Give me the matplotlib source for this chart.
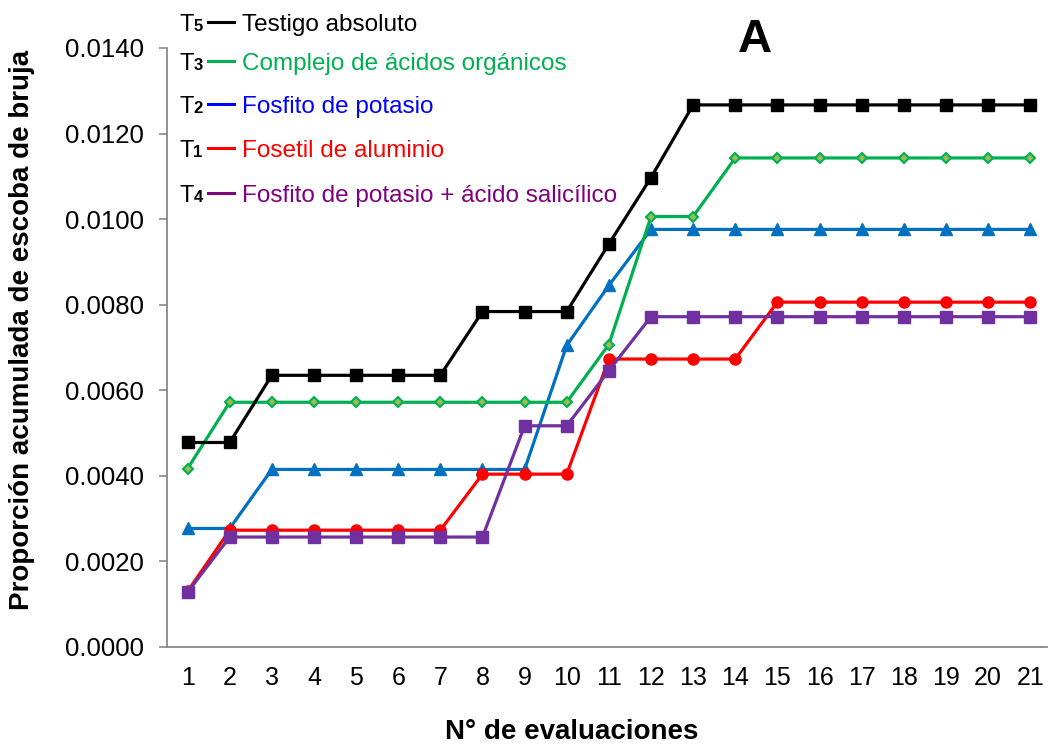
import matplotlib
matplotlib.use("Agg")
import matplotlib.pyplot as plt
from matplotlib.lines import Line2D

plt.rcParams['font.family'] = ['Liberation Sans', 'DejaVu Sans']

evaluaciones = list(range(1, 22))

t5_testigo = [0.00478, 0.00478, 0.00635, 0.00635, 0.00635, 0.00635, 0.00635, 0.00784, 0.00784, 0.00784,
              0.00942, 0.01097, 0.01267, 0.01267, 0.01267, 0.01267, 0.01267, 0.01267, 0.01267, 0.01267, 0.01267]
t3_complejo = [0.00417, 0.00572, 0.00572, 0.00572, 0.00572, 0.00572, 0.00572, 0.00572, 0.00572, 0.00572,
               0.00707, 0.01006, 0.01006, 0.01143, 0.01143, 0.01143, 0.01143, 0.01143, 0.01143, 0.01143, 0.01143]
t2_fosfito = [0.00277, 0.00277, 0.00415, 0.00415, 0.00415, 0.00415, 0.00415, 0.00415, 0.00415, 0.00705,
              0.00845, 0.00976, 0.00976, 0.00976, 0.00976, 0.00976, 0.00976, 0.00976, 0.00976, 0.00976, 0.00976]
t1_fosetil = [0.00130, 0.00273, 0.00273, 0.00273, 0.00273, 0.00273, 0.00273, 0.00404, 0.00404, 0.00404,
              0.00673, 0.00673, 0.00673, 0.00673, 0.00806, 0.00806, 0.00806, 0.00806, 0.00806, 0.00806, 0.00806]
t4_fosfito_sal = [0.00128, 0.00257, 0.00257, 0.00257, 0.00257, 0.00257, 0.00257, 0.00257, 0.00517, 0.00517,
                  0.00646, 0.00772, 0.00772, 0.00772, 0.00772, 0.00772, 0.00772, 0.00772, 0.00772, 0.00772, 0.00772]

yticks = [0.0, 0.002, 0.004, 0.006, 0.008, 0.010, 0.012, 0.014]
ytick_labels = ["0.0000", "0.0020", "0.0040", "0.0060", "0.0080", "0.0100", "0.0120", "0.0140"]

legend_items = [
    ("T", "5", "Testigo absoluto", "#000000", "#000000"),
    ("T", "3", "Complejo de ácidos orgánicos", "#00B050", "#00B050"),
    ("T", "2", "Fosfito de potasio", "#0000FF", "#0000FF"),
    ("T", "1", "Fosetil de aluminio", "#FF0000", "#FF0000"),
    ("T", "4", "Fosfito de potasio + ácido salicílico", "#800080", "#800080"),
]

W, H = 1049, 749
fig = plt.figure(figsize=(W / 100, H / 100), dpi=100)
ax = fig.add_axes([166.5 / W, 1 - 647 / H, (1047 - 166.5) / W, (647 - 48) / H])

lw = 2.3
ax.plot(evaluaciones, t2_fosfito, color="#0070C0", lw=lw, marker="^", ms=8.5, zorder=3)
ax.plot(evaluaciones, t1_fosetil, color="#FF0000", lw=lw, marker="o", ms=8, zorder=4)
ax.plot(evaluaciones, t4_fosfito_sal, color="#7030A0", lw=lw, marker="s", ms=8, zorder=5)
ax.plot(evaluaciones, t3_complejo, color="#00B050", lw=lw, marker="D", ms=5.5,
        markerfacecolor="#9BBB59", markeredgecolor="#00B050", markeredgewidth=1.5, zorder=6)
ax.plot(evaluaciones, t5_testigo, color="#000000", lw=lw, marker="s", ms=8, zorder=7)

ax.set_xlim(0.5, 21.4)
ax.set_ylim(0, 0.014)
ax.set_xticks(evaluaciones)
ax.set_xticklabels([str(v) for v in evaluaciones], fontsize=18)
ax.set_yticks(yticks)
ax.set_yticklabels(ytick_labels, fontsize=18.5)
ax.tick_params(axis='x', length=0, pad=14)
ax.tick_params(axis='y', length=5.5, width=1.2, color="#898989", pad=11, direction='out')
for s in ['top', 'right']:
    ax.spines[s].set_visible(False)
for s in ['left', 'bottom']:
    ax.spines[s].set_color("#898989")
    ax.spines[s].set_linewidth(1.3)

fig.text(22 / W, 1 - 330 / H, "Proporción acumulada de escoba de bruja", rotation=90,
         ha='center', va='center', fontsize=20, fontweight='bold')
fig.text(572 / W, 1 - 732 / H, "N° de evaluaciones", ha='center', va='center',
         fontsize=20, fontweight='bold')
fig.text(755 / W, 1 - 40 / H, "A", ha='center', va='center', fontsize=34, fontweight='bold')

row_y = [21.7, 61, 104, 147.7, 193.3]
for (t, sub, label, line_c, text_c), y in zip(legend_items, row_y):
    base = 1 - (y + 9) / H
    fig.text(180 / W, base, t, ha='left', va='baseline', fontsize=17, color="black")
    fig.text(193.5 / W, base, sub, ha='left', va='baseline', fontsize=12, color="black",
             fontweight='bold')
    fig.add_artist(Line2D([208 / W, 234 / W], [1 - y / H, 1 - y / H], color=line_c, lw=2.2,
                          transform=fig.transFigure))
    fig.text(241.5 / W, base, label, ha='left', va='baseline', fontsize=17.5, color=text_c)

fig.savefig("out.png", dpi=100)
